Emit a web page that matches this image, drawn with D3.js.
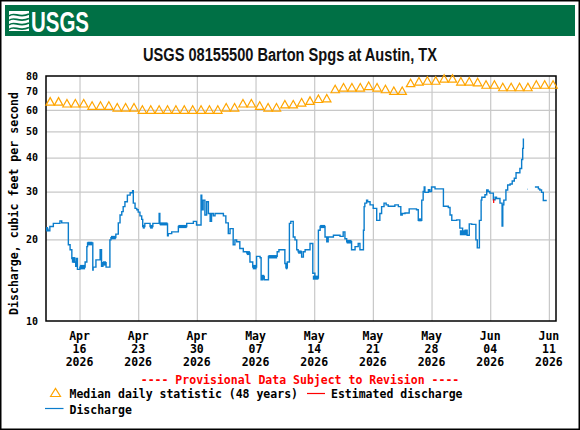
<!DOCTYPE html>
<html>
<head>
<meta charset="utf-8">
<script src="https://cdn.jsdelivr.net/npm/d3@7"></script>
<style>
body { margin: 0; background: #fff; }
</style>
</head>
<body>
<script>

// median daily statistic, one value a day from Apr 12
var medianStart = "2026-04-12";
var medianValues = [
  62.5, 62.5, 61.5, 61.5, 61.5, 60.3, 60.3, 60.3, 59.4, 59.4,
  59.4, 58.3, 58.3, 58.3, 58.3, 58.3, 58.3, 58.3, 58.3, 58.3,
  58.3, 59.4, 59.4, 61.5, 61.5, 60.3, 59.4, 59.4, 61.0, 61.0,
  62.0, 62.9, 63.9, 64.2, 69.4, 70.4, 70.4, 70.4, 71.3, 70.4,
  69.4, 68.4, 68.4, 73.1, 74.1, 74.6, 74.6, 75.9, 75.9, 74.1,
  74.1, 73.6, 72.1, 72.1, 70.6, 70.6, 70.6, 70.6, 72.1, 72.1,
  72.1
];

// discharge, step breakpoints "MM-DD HH", cfs (null = gap)
var discharge = [
  ["04-12 00",21.8],["04-12 06",21.5],["04-12 11",22.3],["04-12 21",22.9],["04-13 16",23.4],
  ["04-13 21",23.0],["04-14 16",19.1],["04-14 21",18.3],["04-15 02",17.0],["04-15 08",16.5],
  ["04-15 13",15.9],["04-15 14",17.0],["04-15 18",15.5],["04-16 01",15.8],["04-16 16",16.5],
  ["04-16 21",18.8],["04-16 23",19.4],["04-17 14",15.4],["04-17 15",15.8],["04-17 23",16.8],
  ["04-18 11",18.3],["04-18 15",15.9],["04-18 19",16.4],["04-19 04",15.8],["04-19 15",19.9],
  ["04-19 18",20.3],["04-20 08",20.9],["04-20 15",23.0],["04-20 20",24.6],["04-21 01",25.3],
  ["04-21 05",26.4],["04-21 10",27.5],["04-21 17",29.1],["04-22 01",29.7],["04-22 08",30.2],
  ["04-22 10",27.2],["04-22 15",26.0],["04-22 20",25.7],["04-23 00",25.2],["04-23 05",24.4],
  ["04-23 10",23.7],["04-23 13",22.3],["04-23 19",22.9],["04-24 10",22.3],["04-24 18",22.9],
  ["04-25 12",24.9],["04-25 14",22.8],["04-26 12",20.6],["04-26 14",21.0],["04-27 00",21.3],
  ["04-27 19",22.3],["04-28 19",22.9],["04-29 14",23.3],["04-29 23",22.6],["04-30 12",29.1],
  ["04-30 14",25.7],["04-30 18",27.9],["04-30 23",24.6],["05-01 04",27.5],["05-01 09",24.9],
  ["05-01 14",23.3],["05-01 18",24.9],["05-01 23",24.4],["05-02 04",24.9],["05-03 04",24.4],
  ["05-03 11",23.0],["05-03 18",21.0],["05-03 23",21.9],["05-04 08",19.1],["05-04 13",19.9],
  ["05-04 18",19.6],["05-05 03",18.5],["05-05 13",18.0],["05-05 23",17.8],["05-06 08",16.5],
  ["05-06 16",15.8],["05-07 03",17.3],["05-07 13",17.1],["05-07 16",14.2],["05-07 20",14.6],
  ["05-08 01",14.2],["05-08 13",17.3],["05-09 14",18.0],["05-09 19",18.3],["05-10 12",16.3],
  ["05-10 15",15.7],["05-10 19",16.5],["05-11 01",22.9],["05-11 05",23.3],["05-11 12",20.4],
  ["05-11 17",19.9],["05-11 22",18.3],["05-12 02",18.0],["05-12 12",17.2],["05-12 17",18.0],
  ["05-12 22",18.3],["05-13 12",19.3],["05-13 20",15.0],["05-14 02",14.4],["05-14 12",21.6],
  ["05-14 17",22.3],["05-15 07",20.4],["05-15 12",19.6],["05-15 16",20.4],["05-16 07",20.7],
  ["05-17 02",20.5],["05-17 11",21.3],["05-17 16",20.1],["05-17 21",19.6],["05-18 11",18.3],
  ["05-18 21",18.8],["05-19 06",19.3],["05-19 11",18.3],["05-19 21",21.6],["05-19 23",26.4],
  ["05-20 01",27.2],["05-20 06",27.9],["05-20 09",27.5],["05-20 16",26.8],["05-21 01",26.0],
  ["05-21 11",23.5],["05-21 20",24.9],["05-22 01",26.4],["05-22 08",27.2],["05-22 14",26.8],
  ["05-22 20",26.5],["05-23 15",26.8],["05-24 01",26.4],["05-24 08",24.6],["05-24 12",24.9],
  ["05-24 20",25.0],["05-25 08",25.9],["05-26 05",25.7],["05-26 10",23.5],["05-26 20",27.9],
  ["05-27 00",30.0],["05-27 03",31.2],["05-27 05",29.8],["05-27 15",30.5],["05-27 19",30.0],
  ["05-28 00",31.2],["05-28 10",30.7],["05-29 10",26.5],["05-30 00",26.2],["05-30 05",24.6],
  ["05-30 10",23.5],["05-31 00",23.6],["05-31 09",22.0],["05-31 17",21.0],["06-01 00",21.6],
  ["06-01 06",20.7],["06-01 12",22.8],["06-01 19",22.7],["06-02 07",19.9],["06-02 11",18.6],
  ["06-02 17",23.5],["06-02 22",27.9],["06-03 00",28.6],["06-03 09",29.2],["06-03 14",30.4],
  ["06-03 18",30.0],["06-03 23",29.6],["06-04 09",28.0],["06-04 14",28.6],["06-04 18",28.3],
  ["06-05 04",27.2],["06-05 10",22.4],["06-05 12",26.8],["06-05 15",27.9],["06-05 21",30.4],
  ["06-06 02",31.7],["06-06 09",32.0],["06-06 15",32.8],["06-06 21",33.6],["06-07 02",35.2],
  ["06-07 13",36.5],["06-07 18",39.4],["06-07 21",43.3],["06-07 23",47.1],["06-08 00",null],
  ["06-08 10",30.6],["06-08 11",30.6],["06-08 12",null],["06-09 08",31.2],["06-09 18",30.7],
  ["06-09 22",30.4],["06-10 03",29.8],["06-10 08",27.8],["06-10 18",27.8]
];

// estimated discharge (a short piece on Jun 04)
var estimated = [["06-04 09",28.0],["06-04 10",27.2]];

// spans where the 15-min record flickers between two levels: start, end, low, high
var flicker = [
  ["04-12 00","04-12 06",21.4,22.2], ["04-15 02","04-15 12",16.4,17.2],
  ["04-16 01","04-16 16",15.5,16.1], ["04-16 23","04-17 13",19.0,19.6],
  ["04-18 19","04-19 04",16.0,16.6], ["04-19 18","04-20 08",20.0,20.6],
  ["04-23 13","04-23 19",21.9,22.6], ["04-24 10","04-24 18",21.9,22.6],
  ["04-25 14","04-26 12",22.5,23.1], ["04-27 19","04-28 19",22.0,22.6],
  ["05-05 23","05-06 08",17.5,18.1], ["05-06 16","05-07 03",15.5,16.1],
  ["05-07 16","05-08 01",14.2,14.8], ["05-08 13","05-09 14",17.0,17.5],
  ["05-10 15","05-10 19",15.5,16.0], ["05-12 02","05-12 12",17.7,18.2],
  ["05-13 20","05-14 12",14.2,14.7], ["05-14 17","05-15 07",22.0,22.6],
  ["05-17 21","05-18 11",19.3,19.9], ["05-26 10","05-26 20",23.3,23.9],
  ["05-31 09","06-01 06",20.7,21.6]
];

var tickDates = ["2026-04-16","2026-04-23","2026-04-30","2026-05-07","2026-05-14",
                 "2026-05-21","2026-05-28","2026-06-04","2026-06-11"];
var yTicks = [10, 20, 30, 40, 50, 60, 70, 80];
var yGrid = [20, 30, 40, 50, 60, 70];

var mono = "'DejaVu Sans Mono', monospace";
var parseDay = d3.timeParse("%Y-%m-%d"),
    parseStamp = d3.timeParse("%Y-%m-%d %H"),
    stamp = function(s) { return parseStamp("2026-" + s); };

var svg = d3.select("body").append("svg")
    .attr("width", 580)
    .attr("height", 430);

var pL = 46, pT = 76, pR = 556, pB = 321;

var x = d3.scaleTime()
    .domain([parseDay(medianStart), new Date(2026, 5, 11, 20, 24)])
    .range([pL, pR]);
var y = d3.scaleLog().domain([10, 80]).range([pB, pT]);

svg.append("rect").attr("width", 580).attr("height", 430).attr("fill", "#fff");

// header band + logo
svg.append("rect").attr("x", 5).attr("y", 5).attr("width", 570).attr("height", 31).attr("fill", "#007045");
var logo = svg.append("g").attr("transform", "translate(9,11)");
logo.append("rect").attr("width", 20).attr("height", 20).attr("fill", "#fff");
[3, 7.5, 12, 16.5].forEach(function(o) {
  logo.append("path")
      .attr("d", "M0," + (o + 2) + " C5," + (o - 3) + " 10," + (o + 5) + " 20," + o)
      .attr("fill", "none").attr("stroke", "#007045").attr("stroke-width", 1.6);
});
svg.append("text")
    .attr("x", 31).attr("y", 31.5)
    .attr("textLength", 58).attr("lengthAdjust", "spacingAndGlyphs")
    .style("font", "bold 29px 'Liberation Sans Narrow', 'Liberation Sans', sans-serif")
    .attr("fill", "#fff")
    .text("USGS");

svg.append("text")
    .attr("x", 290).attr("y", 61)
    .attr("text-anchor", "middle")
    .attr("textLength", 294).attr("lengthAdjust", "spacingAndGlyphs")
    .style("font", "bold 18px 'Liberation Sans Narrow', 'Liberation Sans', sans-serif")
    .attr("fill", "#111")
    .text("USGS 08155500 Barton Spgs at Austin, TX");

var ticks = tickDates.map(parseDay);

// grid
var gx = svg.append("g")
    .attr("transform", "translate(0," + pB + ")")
    .call(d3.axisBottom(x).tickValues(ticks).tickSize(-(pB - pT)).tickFormat(""));
var gy = svg.append("g")
    .attr("transform", "translate(" + pL + ",0)")
    .call(d3.axisLeft(y).tickValues(yGrid).tickSize(-(pR - pL)).tickFormat(""));
[gx, gy].forEach(function(g) {
  g.select(".domain").remove();
  g.selectAll("line").attr("stroke", "#c8c8c8").attr("stroke-width", 1.2);
});

// y labels
var yl = svg.append("g")
    .attr("transform", "translate(" + pL + ",0)")
    .call(d3.axisLeft(y).tickValues(yTicks).tickSize(0).tickPadding(8).tickFormat(d3.format("d")));
yl.select(".domain").remove();
yl.selectAll("text").style("font", "bold 10px " + mono).attr("fill", "#000");

// x labels, three lines each
var fmtM = d3.timeFormat("%b"), fmtD = d3.timeFormat("%d"), fmtY = d3.timeFormat("%Y");
var xl = svg.append("g").selectAll("g").data(ticks).enter().append("g")
    .attr("transform", function(d) { return "translate(" + x(d) + ",0)"; });
[[fmtM, 339.5], [fmtD, 352.5], [fmtY, 365.5]].forEach(function(p) {
  xl.append("text")
      .attr("y", p[1])
      .attr("text-anchor", "middle")
      .style("font", "bold 11.5px " + mono)
      .text(function(d) { return p[0](d); });
});

svg.append("text")
    .attr("transform", "translate(18," + ((pT + pB) / 2 + 5) + ") rotate(-90)")
    .attr("text-anchor", "middle")
    .attr("textLength", 223).attr("lengthAdjust", "spacingAndGlyphs")
    .style("font", "bold 11.5px " + mono)
    .text("Discharge, cubic feet per second");

// frame
svg.append("rect")
    .attr("x", pL).attr("y", pT)
    .attr("width", pR - pL).attr("height", pB - pT)
    .attr("fill", "none").attr("stroke", "#000").attr("stroke-width", 1.5);

// median triangles (base on the value)
var day = 864e5, t0 = parseDay(medianStart);
svg.append("g").selectAll("path").data(medianValues).enter().append("path")
    .attr("d", function(v, i) {
      var cx = x(new Date(+t0 + (i + 0.5) * day)), cy = y(v);
      return "M" + (cx - 4.2) + "," + cy + "L" + cx + "," + (cy - 7.5) + "L" + (cx + 4.2) + "," + cy + "Z";
    })
    .attr("fill", "none")
    .attr("stroke", "#ffa500")
    .attr("stroke-width", 1.2);

// discharge
var blue = "#0b7dcc";
var line = d3.line()
    .defined(function(d) { return d[1] != null; })
    .curve(d3.curveStepAfter)
    .x(function(d) { return x(stamp(d[0])); })
    .y(function(d) { return y(d[1]); });

svg.append("g").selectAll("rect").data(flicker).enter().append("rect")
    .attr("x", function(d) { return x(stamp(d[0])); })
    .attr("y", function(d) { return y(d[3]); })
    .attr("width", function(d) { return x(stamp(d[1])) - x(stamp(d[0])); })
    .attr("height", function(d) { return y(d[2]) - y(d[3]); })
    .attr("fill", blue);

svg.append("path")
    .datum(discharge)
    .attr("d", line)
    .attr("fill", "none")
    .attr("stroke", blue)
    .attr("stroke-width", 1.4);

svg.append("path")
    .datum(estimated)
    .attr("d", line)
    .attr("fill", "none")
    .attr("stroke", "#f00")
    .attr("stroke-width", 1.2);

// legend
svg.append("text")
    .attr("x", 300).attr("y", 383.5)
    .attr("text-anchor", "middle")
    .style("font", "bold 11.5px " + mono)
    .attr("fill", "#f00")
    .text("---- Provisional Data Subject to Revision ----");

svg.append("path")
    .attr("d", "M50.5,396.5L55.5,388.5L60.5,396.5Z")
    .attr("fill", "none").attr("stroke", "#ffa500").attr("stroke-width", 1.2);
svg.append("text").attr("x", 69.5).attr("y", 397.5)
    .style("font", "bold 11.5px " + mono).text("Median daily statistic (48 years)");
svg.append("line").attr("x1", 307).attr("x2", 325).attr("y1", 393.5).attr("y2", 393.5)
    .attr("stroke", "#f00").attr("stroke-width", 1.2);
svg.append("text").attr("x", 331).attr("y", 397.5)
    .style("font", "bold 11.5px " + mono).text("Estimated discharge");
svg.append("line").attr("x1", 45).attr("x2", 63.5).attr("y1", 408.5).attr("y2", 408.5)
    .attr("stroke", blue).attr("stroke-width", 1.2);
svg.append("text").attr("x", 69.5).attr("y", 413.5)
    .style("font", "bold 11.5px " + mono).text("Discharge");

// outer frame
svg.append("rect")
    .attr("x", 0.75).attr("y", 0.75).attr("width", 578.5).attr("height", 428.5)
    .attr("fill", "none").attr("stroke", "#000").attr("stroke-width", 1.5);

</script>
</body>
</html>
